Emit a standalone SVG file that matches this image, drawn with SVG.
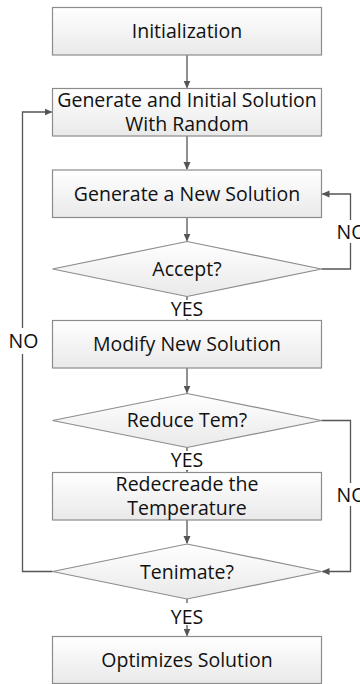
<svg xmlns="http://www.w3.org/2000/svg" width="360" height="684" viewBox="0 0 360 684">
<defs>
<linearGradient id="g" x1="0" y1="0" x2="0" y2="1">
<stop offset="0" stop-color="#ffffff"/>
<stop offset="1" stop-color="#e9e9e9"/>
</linearGradient>
<marker id="ah" markerWidth="8" markerHeight="8" refX="7" refY="4" orient="auto" markerUnits="userSpaceOnUse">
<path d="M0,0.5 L8,4 L0,7.5 Z" fill="#555555"/>
</marker>
</defs>
<style>
.box{fill:url(#g);stroke:#8c8c8c;stroke-width:1.2}
.t{font-family:"Open Sans","Liberation Sans",sans-serif;font-size:19.5px;fill:#111111;text-anchor:middle}
.lbl{font-family:"Open Sans","Liberation Sans",sans-serif;font-size:19.5px;fill:#111111}
.c{fill:none;stroke:#555555;stroke-width:1.3}
.bg{fill:#ffffff}
</style>
<rect width="360" height="684" fill="#ffffff"/>
<g id="connectors">
<path class="c" d="M187,55 V87.5" marker-end="url(#ah)"/>
<path class="c" d="M187,136 V169" marker-end="url(#ah)"/>
<path class="c" d="M187,217.5 V240.5" marker-end="url(#ah)"/>
<path class="c" d="M187,296.5 V319.5" marker-end="url(#ah)"/>
<path class="c" d="M321.5,269 H350.5 V194 H322.5" marker-end="url(#ah)"/>
<path class="c" d="M187,368 V392.5" marker-end="url(#ah)"/>
<path class="c" d="M187,447.5 V471.5" marker-end="url(#ah)"/>
<path class="c" d="M321.5,420.5 H350.5 V571.5 H322.5" marker-end="url(#ah)"/>
<path class="c" d="M187,520 V543" marker-end="url(#ah)"/>
<path class="c" d="M187,599 V635.5" marker-end="url(#ah)"/>
<path class="c" d="M52.5,571.5 H22.5 V112 H51.5" marker-end="url(#ah)"/>
<rect class="bg" x="168" y="300" width="38" height="19"/>
<text class="t" x="187" y="315.5">YES</text>
<rect class="bg" x="168" y="451" width="38" height="19"/>
<text class="t" x="187" y="466.5">YES</text>
<rect class="bg" x="168" y="603" width="38" height="22"/>
<text class="t" x="187" y="623.5">YES</text>
<rect class="bg" x="335" y="220" width="25" height="23"/>
<text class="lbl" x="336.5" y="238.5">NO</text>
<rect class="bg" x="335" y="483" width="25" height="23"/>
<text class="lbl" x="336.5" y="502">NO</text>
<rect class="bg" x="7" y="328" width="33" height="26"/>
<text class="t" x="23.5" y="348">NO</text>
</g>
<g id="n1">
<rect class="box" x="52.5" y="7.5" width="269" height="47.5"/>
<text class="t" x="187" y="38">Initialization</text>
</g>
<g id="n2">
<rect class="box" x="52.5" y="88.5" width="269" height="47.5"/>
<text class="t" x="187" y="106.5">Generate and Initial Solution</text>
<text class="t" x="187" y="130.5">With Random</text>
</g>
<g id="n3">
<rect class="box" x="52.5" y="170" width="269" height="47.5"/>
<text class="t" x="187" y="200.5">Generate a New Solution</text>
</g>
<g id="d1">
<polygon class="box" points="187,241.5 321.5,269 187,296.5 52.5,269"/>
<text class="t" x="187" y="275.5">Accept?</text>
</g>
<g id="n4">
<rect class="box" x="52.5" y="320.5" width="269" height="47.5"/>
<text class="t" x="187" y="351">Modify New Solution</text>
</g>
<g id="d2">
<polygon class="box" points="187,393.5 321.5,420.5 187,447.5 52.5,420.5"/>
<text class="t" x="187" y="427">Reduce Tem?</text>
</g>
<g id="n5">
<rect class="box" x="52.5" y="472.5" width="269" height="47.5"/>
<text class="t" x="187" y="490.5">Redecreade the</text>
<text class="t" x="187" y="515">Temperature</text>
</g>
<g id="d3">
<polygon class="box" points="187,544 321.5,571.5 187,599 52.5,571.5"/>
<text class="t" x="187" y="578.5">Tenimate?</text>
</g>
<g id="n6">
<rect class="box" x="52.5" y="636.5" width="269" height="47"/>
<text class="t" x="187" y="666.5">Optimizes Solution</text>
</g>
</svg>
